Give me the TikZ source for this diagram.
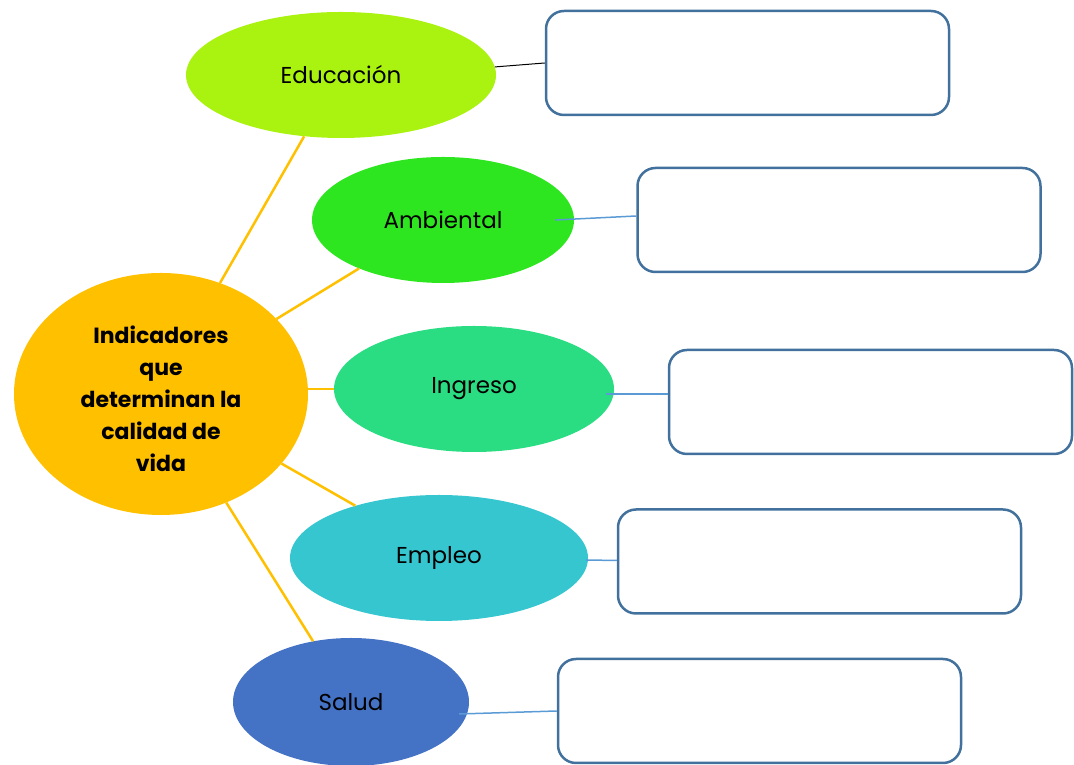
\documentclass[tikz,border=0pt]{standalone}
\usepackage{fontspec}
\setmainfont{Poppins}
\usetikzlibrary{shapes.geometric,calc}
\definecolor{cEdu}{RGB}{170,242,16}
\definecolor{cAmb}{RGB}{46,230,32}
\definecolor{cIng}{RGB}{42,220,130}
\definecolor{cEmp}{RGB}{54,198,208}
\definecolor{cSal}{RGB}{68,114,196}
\definecolor{cMain}{RGB}{255,192,0}
\definecolor{cBox}{RGB}{65,113,156}
\definecolor{cLink}{RGB}{91,155,213}
\tikzset{
  oval/.style={ellipse, draw=none, inner sep=0pt, font=\fontsize{23}{27}\selectfont},
  emptybox/.style={rectangle, draw=cBox, line width=2.5pt, rounded corners=18pt, fill=white,
                   minimum width=403pt, minimum height=104pt, inner sep=0pt},
  spoke/.style={draw=cMain, line width=2.5pt},
  link/.style={draw=cLink, line width=1.5pt},
}
\begin{document}
\begin{tikzpicture}[x=1pt,y=1pt]
\useasboundingbox (0,0) rectangle (1074,765);
% main node
\node[oval, fill=cMain, minimum width=294pt, minimum height=242pt,
      font=\bfseries\fontsize{22}{32}\selectfont] (c) at (161,371)
  {\raisebox{-12pt}[0pt][0pt]{\begin{tabular}{@{}c@{}}Indicadores\\que\\determinan la\\calidad de\\vida\end{tabular}}};
% category ellipses
\node[oval, fill=cEdu, minimum width=310pt, minimum height=126pt] (edu) at (341,690) {Educación};
\node[oval, fill=cAmb, minimum width=262pt, minimum height=126pt] (amb) at (443,545) {Ambiental};
\node[oval, fill=cIng, minimum width=280pt, minimum height=126pt] (ing) at (474,376) {Ingreso};
\node[oval, fill=cEmp, minimum width=298pt, minimum height=126pt] (emp) at (439,207) {Empleo};
\node[oval, fill=cSal, minimum width=236pt, minimum height=128pt] (sal) at (351,63) {Salud};
% boxes
\node[emptybox] (b1) at (747.5,702) {};
\node[emptybox] (b2) at (839,545) {};
\node[emptybox] (b3) at (870.5,363) {};
\node[emptybox] (b4) at (819.5,203.5) {};
\node[emptybox] (b5) at (759.5,54) {};
% spokes
\draw[spoke] (c.62.8) -- (edu.239.3);
\draw[spoke] (c.33.6) -- (amb.210.2);
\draw[spoke] (c.east |- ing.west) -- (ing.west);
\draw[spoke] (c.-30.5) -- (emp.148.8);
\draw[spoke] (c.-59.2) -- (sal.122.2);
% links to boxes
\draw[black, line width=1pt] (edu.3) -- (b1.west);
\draw[link] ([xshift=-19pt]amb.east) -- ([yshift=4pt]b2.west);
\draw[link] ([shift={(-8pt,-5pt)}]ing.east) -- ([yshift=8pt]b3.west);
\draw[link] ([xshift=-2pt,yshift=-2pt]emp.east) -- ([yshift=1pt]b4.west);
\draw[link] ([shift={(-10pt,-12pt)}]sal.east) -- (b5.west);
\end{tikzpicture}
\end{document}
